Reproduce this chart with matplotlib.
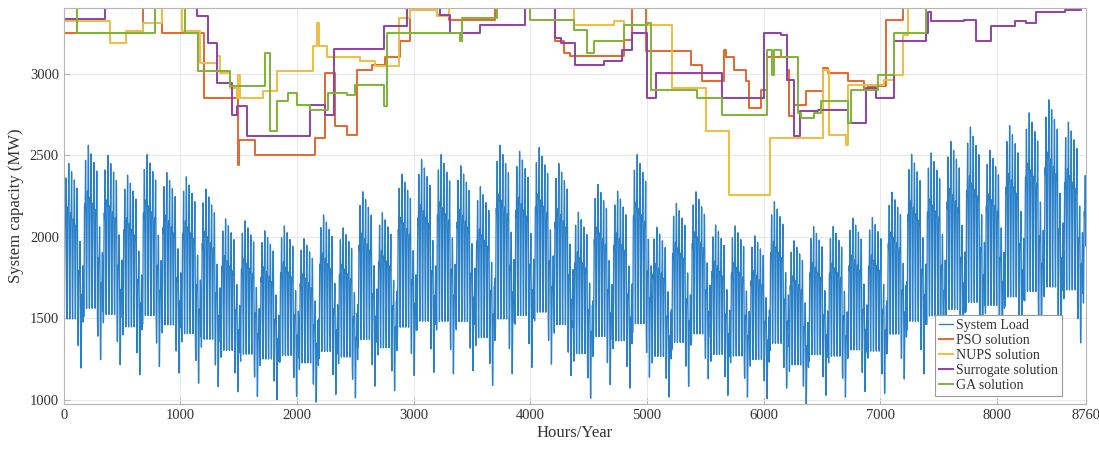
import numpy as np
import matplotlib.pyplot as plt

plt.rcParams['font.family'] = ['Liberation Serif', 'DejaVu Serif']

# weekly envelope of the load (MW), week 0 .. 52
week_peak = [2449, 2561, 2500, 2378, 2504, 2394, 2368, 2293, 2110, 2098,
             2037, 2067, 1988, 2134, 2055, 2276, 2148, 2384,
             2474, 2504, 2435, 2307, 2561, 2524, 2547, 2449, 2151, 2321,
             2280, 2504, 2059, 2205, 2276, 2073, 2067, 2006,
             2215, 1976, 2063, 2063, 2114, 2118, 2273, 2506, 2514, 2585,
             2673, 2530, 2681, 2760, 2840, 2703, 2450]
week_low = [1196, 1247, 1216, 1154, 1206, 1165, 1103, 1082, 1050, 1023,
            1003, 1023, 987, 1034, 1013, 1085, 1058, 1150, 1170, 1160,
            1180, 1090, 1160, 1200, 1220, 1150, 1010, 1094, 1073, 1140,
            1018, 1084, 1130, 1029, 1018, 1008, 1073, 975, 1029, 1018,
            1052, 1041, 1129, 1160, 1200, 1230, 1260, 1280, 1300, 1320,
            1330, 1350, 1380]
# daily profile (0 = night minimum, 1 = evening peak)
day_shape = [0.30, 0.18, 0.08, 0.02, 0.0, 0.04, 0.18, 0.40, 0.58, 0.66,
             0.70, 0.72, 0.72, 0.70, 0.68, 0.68, 0.72, 0.82, 0.95, 1.0,
             0.96, 0.85, 0.65, 0.45]
day_top = [0.93, 1.0, 0.96, 0.92, 0.88, 0.62, 0.50]
day_base = [0.20, 0.24, 0.24, 0.24, 0.24, 0.11, 0.0]

hours = np.arange(8760)
load = np.zeros(8760)
for h in hours:
    d = h // 24
    w = d % 7
    k = d // 7
    lo, pk = week_low[k], week_peak[k]
    f = day_base[w] + (day_top[w] - day_base[w]) * day_shape[h % 24]
    load[h] = lo + (pk - lo) * f

# capacity solutions: hour where each level starts, level (MW)
pso_h = [0, 681, 838, 1200, 1496, 1505, 1640, 2155, 2240, 2326, 2426, 2512,
         2641, 2755, 2884, 2970, 3199, 3299, 3700, 4214, 4286, 4343, 4801,
         4872, 4987, 5373, 5473, 5659, 5674, 5745, 5845, 5874, 5974, 6031,
         6203, 6217, 6260, 6361, 6504, 6547, 6718, 6862, 6890, 7048, 7191]
pso_v = [3250, 3400, 3250, 2850, 2443, 2595, 2504, 2606, 3004, 2677, 2626, 3025,
         3055, 3100, 3198, 3392, 3361, 3330, 3400, 3198, 3127, 3106, 3208,
         3400, 3137, 3055, 2953, 3147, 3100, 3025, 2953, 2790, 2902, 3100,
         3025, 2739, 2810, 2892, 3035, 3004, 2953, 2902, 2922, 3330, 3400]

nups_h = [0, 395, 532, 681, 838, 1010, 1167, 1311, 1340, 1425, 1482, 1496,
          1510, 1711, 1826, 2140, 2170, 2190, 2255, 2541, 2670, 2870, 2970,
          3199, 3299, 4372, 4715, 4801, 5216, 5502, 5702, 6054, 6504, 6561,
          6704, 6718, 7033, 7119, 7191, 7234]
nups_v = [3320, 3190, 3259, 3310, 3400, 3259, 3065, 3106, 3004, 2912, 2851, 2990,
          2851, 2892, 3014, 3167, 3310, 3167, 3100, 3075, 3045, 3341, 3392,
          3351, 3400, 3300, 3320, 3300, 2912, 2647, 2259, 2606, 3025, 2626,
          2565, 2932, 2963, 2994, 3239, 3400]

sur_h = [0, 352, 1139, 1239, 1311, 1445, 1482, 1568, 2112, 2240, 2320, 2741,
         2941, 3227, 3313, 3571, 3957, 4214, 4258, 4386, 4629, 4787, 4872,
         4995, 5073, 5645, 6003, 6146, 6203, 6260, 6309, 6461, 6718, 6876,
         6962, 7119, 7391, 7405, 7434, 7720, 7820, 7949, 8150, 8250, 8336,
         8580, 8723]
sur_v = [3335, 3400, 3355, 3188, 2943, 2749, 2800, 2616, 2810, 2749, 3151, 3290,
         3400, 3361, 3249, 3300, 3400, 3218, 3188, 3055, 3075, 3147, 3249,
         2851, 3004, 2851, 3249, 3239, 2963, 2616, 2769, 2779, 2698, 2912,
         2851, 3198, 3249, 3381, 3320, 3330, 3198, 3290, 3320, 3310, 3381,
         3392, 3400]

ga_h = [0, 110, 781, 1038, 1153, 1425, 1725, 1768, 1830, 1926, 1997, 2112,
        2269, 2426, 2497, 2741, 2770, 3399, 3415, 3714, 4000, 4372, 4486,
        4543, 4801, 5001, 5030, 5430, 5645, 6031, 6074, 6090, 6146, 6289,
        6318, 6432, 6490, 6718, 6747, 6976, 7119, 7391]
ga_v = [3400, 3249, 3400, 3249, 3014, 2922, 3129, 2648, 2831, 2881, 2810, 2779,
        2881, 2870, 2932, 2800, 3249, 3198, 3341, 3400, 3330, 3269, 3127,
        3198, 3300, 3310, 2902, 2851, 2749, 3147, 2994, 3147, 3100, 2759,
        2728, 2759, 2831, 2698, 2902, 2994, 3249, 3400]

series = [
    ('PSO solution', pso_h, pso_v, '#e2692f'),
    ('NUPS solution', nups_h, nups_v, '#f1bd40'),
    ('Surrogate solution', sur_h, sur_v, '#9140a8'),
    ('GA solution', ga_h, ga_v, '#7db536'),
]

fig = plt.figure(figsize=(10.99, 4.49), dpi=100)
ax = fig.add_axes([0.058, 0.1, 0.930, 0.882])

ax.plot(hours, load, color='#2a80c8', lw=0.95, label='System Load')
for name, hh, vv, col in series:
    hh = np.append(hh, 8760)
    vv = np.append(vv, vv[-1])
    ax.step(hh, vv, where='post', color=col, lw=1.4, label=name)

ax.set_xlim(0, 8760)
ax.set_ylim(975, 3402)
ax.set_xticks([0, 1000, 2000, 3000, 4000, 5000, 6000, 7000, 8000, 8760])
ax.set_yticks([1000, 1500, 2000, 2500, 3000])
ax.grid(True, color='#e8e8e8', lw=0.7)
ax.set_axisbelow(True)
for s in ax.spines.values():
    s.set_color('#b5b5b5')
ax.tick_params(direction='in', length=4, colors='#b5b5b5', labelcolor='#333333',
               labelsize=10.5)
ax.set_xlabel('Hours/Year', fontsize=12, color='#333333', labelpad=2)
ax.set_ylabel('System capacity (MW)', fontsize=12, color='#333333', labelpad=4)

leg = ax.legend(loc='lower right', bbox_to_anchor=(0.977, 0.02), fontsize=10,
                fancybox=False, framealpha=1, edgecolor='#9a9a9a',
                handlelength=1.0, handletextpad=0.2, borderpad=0.3,
                labelspacing=0.14, borderaxespad=0.0)
leg.get_frame().set_linewidth(0.8)
for t in leg.get_texts():
    t.set_color('#333333')

fig.savefig('out.png', dpi=100)
